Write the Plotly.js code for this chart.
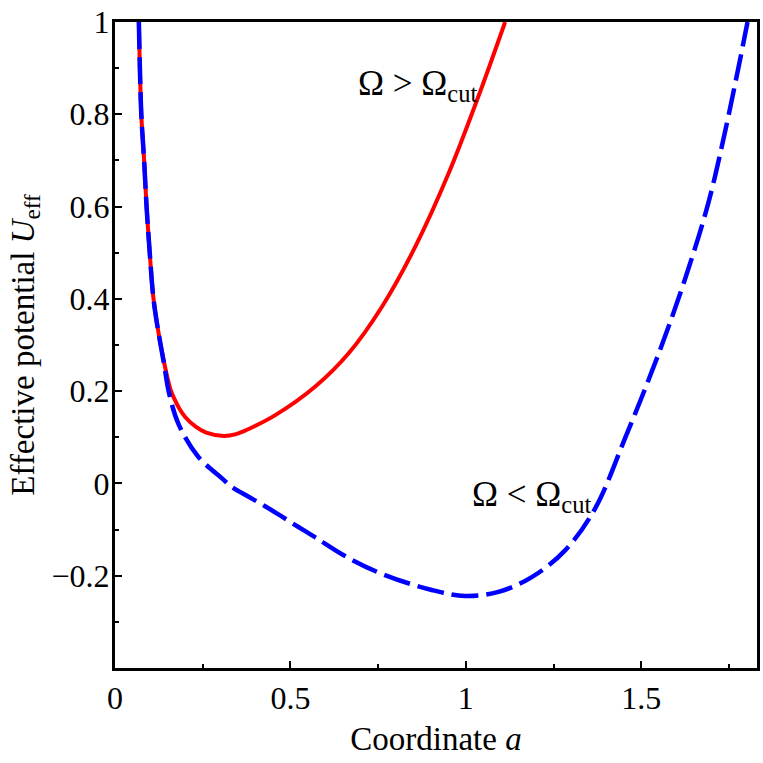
<!DOCTYPE html>
<html>
<head>
<meta charset="utf-8">
<script src="https://cdn.plot.ly/plotly-3.0.1.min.js"></script>
<style>html,body{margin:0;padding:0;background:#fff;}#chart{width:763px;height:763px;}</style>
</head>
<body>
<div id="chart"></div>
<script>
// Omega > Omega_cut (red, solid)
const redA = [0.068, 0.075, 0.083, 0.090, 0.099, 0.109, 0.120, 0.140, 0.158, 0.170, 0.182, 0.200, 0.230, 0.260, 0.310, 0.345, 0.381, 0.457, 0.571, 0.666, 0.761, 0.856, 0.951, 1.036, 1.112];
const redU = [1.000, 0.800, 0.700, 0.600, 0.500, 0.405, 0.345, 0.262, 0.204, 0.182, 0.164, 0.144, 0.123, 0.110, 0.103, 0.107, 0.118, 0.148, 0.210, 0.282, 0.383, 0.513, 0.672, 0.839, 1.000];
// Omega < Omega_cut (blue, dashed)
const blueA = [0.068, 0.075, 0.083, 0.090, 0.099, 0.109, 0.120, 0.140, 0.154, 0.182, 0.237, 0.305, 0.334, 0.381, 0.429, 0.476, 0.524, 0.571, 0.657, 0.761, 0.903, 0.998, 1.093, 1.188, 1.283, 1.368, 1.454, 1.549, 1.624, 1.691, 1.738, 1.776, 1.803];
const blueU = [1.000, 0.800, 0.700, 0.600, 0.500, 0.405, 0.345, 0.258, 0.196, 0.127, 0.058, 0.011, -0.008, -0.029, -0.050, -0.072, -0.095, -0.117, -0.158, -0.196, -0.231, -0.244, -0.235, -0.203, -0.145, -0.055, 0.098, 0.280, 0.441, 0.607, 0.759, 0.897, 1.000];
// ticks
const xTickVals = [0, 0.5, 1, 1.5];
const xTickText = ["0", "0.5", "1", "1.5"];
const yTickVals = [-0.2, 0, 0.2, 0.4, 0.6, 0.8, 1];
const yTickText = ["\u22120.2", "0", "0.2", "0.4", "0.6", "0.8", "1"];
// labels
const labelText = ["\u03A9 > \u03A9<sub>cut</sub>", "\u03A9 < \u03A9<sub>cut</sub>"];
const labelA = [0.862, 1.188];
const labelU = [0.862, -0.028];

const FONT = "Liberation Serif";

const traces = [
  {x: redA, y: redU, mode: "lines", line: {color: "#ff0000", width: 4, shape: "spline", smoothing: 1}, hoverinfo: "skip"},
  {x: blueA, y: blueU, mode: "lines", line: {color: "#0000ff", width: 4.5, dash: "27px,8px", shape: "spline", smoothing: 1}, hoverinfo: "skip"}
];

const axisCommon = {
  showline: true, mirror: true, linecolor: "#000", linewidth: 3,
  showgrid: false, zeroline: false,
  ticks: "inside", ticklen: 7, tickwidth: 2, tickcolor: "#000",
  tickfont: {family: FONT, size: 32, color: "#000"},
  tickmode: "array"
};

const layout = {
  width: 763, height: 763,
  margin: {l: 115, r: 6, t: 22, b: 95},
  paper_bgcolor: "#fff", plot_bgcolor: "#fff",
  showlegend: false,
  font: {family: FONT, color: "#000"},
  xaxis: Object.assign({}, axisCommon, {
    range: [0, 1.83], tickvals: xTickVals, ticktext: xTickText,
    minor: {tickvals: [0.25, 0.75, 1.25, 1.75], ticks: "inside", ticklen: 4, tickwidth: 2, tickcolor: "#000"},
    title: {text: "Coordinate <i>a</i>", font: {family: FONT, size: 33, color: "#000"}, standoff: 12}
  }),
  yaxis: Object.assign({}, axisCommon, {
    range: [-0.4, 1], tickvals: yTickVals, ticktext: yTickText,
    ticklabelstandoff: -4,
    minor: {tickvals: [-0.3, -0.1, 0.1, 0.3, 0.5, 0.7, 0.9], ticks: "inside", ticklen: 4, tickwidth: 2, tickcolor: "#000"},
    title: {text: "Effective potential <i>U</i><sub>eff</sub>", font: {family: FONT, size: 33, color: "#000"}, standoff: 8}
  }),
  annotations: labelText.map((t, i) => ({
    x: labelA[i], y: labelU[i], xref: "x", yref: "y", text: t, showarrow: false,
    xanchor: "center", yanchor: "middle", font: {family: FONT, size: 35, color: "#000"}
  }))
};

Plotly.newPlot("chart", traces, layout, {staticPlot: true, displayModeBar: false});
</script>
</body>
</html>
